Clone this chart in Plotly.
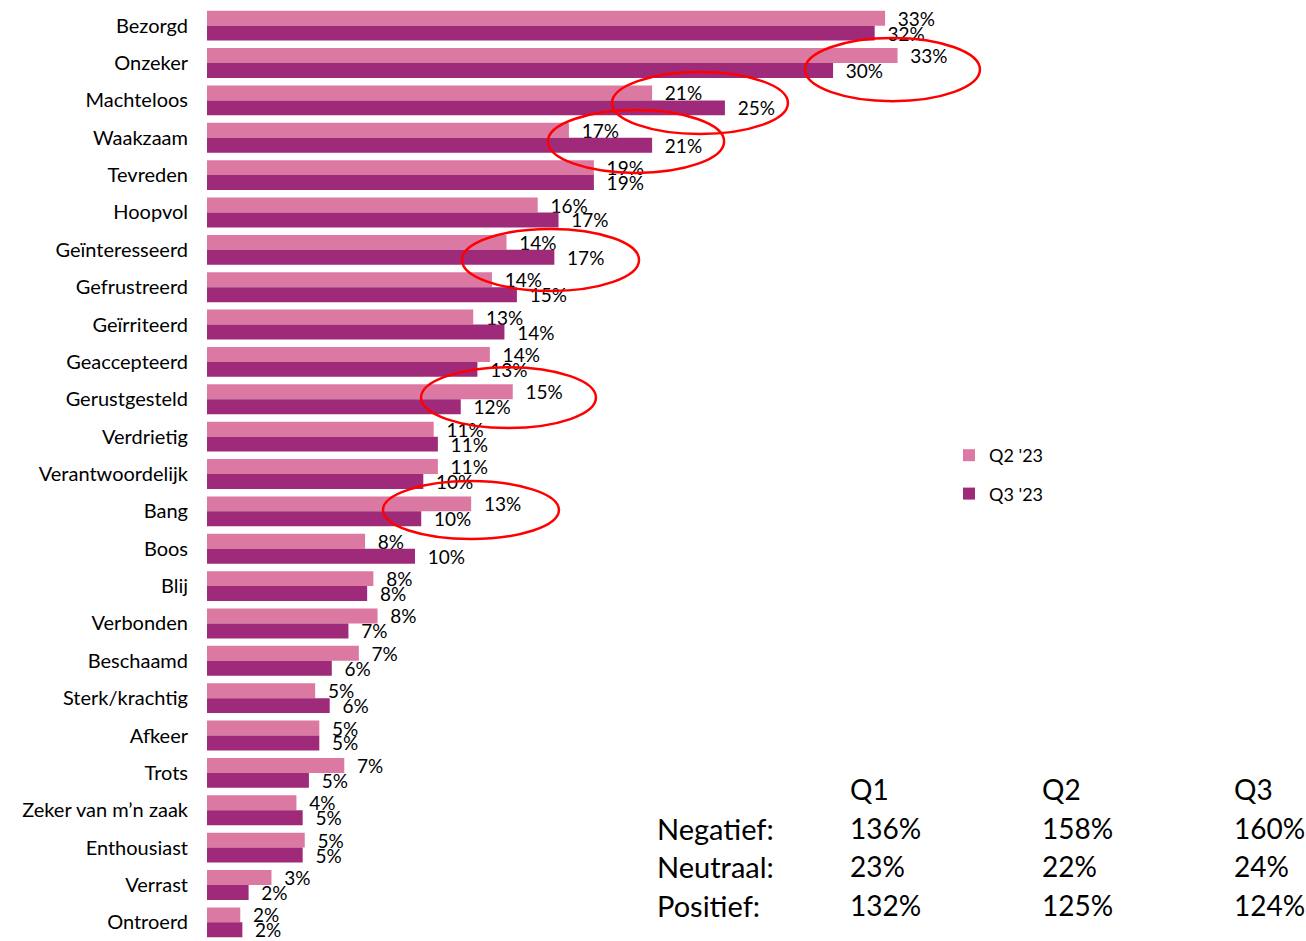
import plotly.graph_objects as go

CATEGORIES = ["Bezorgd", "Onzeker", "Machteloos", "Waakzaam", "Tevreden", "Hoopvol",
              "Geïnteresseerd", "Gefrustreerd", "Geïrriteerd", "Geaccepteerd", "Gerustgesteld",
              "Verdrietig", "Verantwoordelijk", "Bang", "Boos", "Blij", "Verbonden",
              "Beschaamd", "Sterk/krachtig", "Afkeer", "Trots", "Zeker van m’n zaak",
              "Enthousiast", "Verrast", "Ontroerd"]

Q2_VALUES = [32.6, 33.2, 21.4, 17.4, 18.6, 15.9, 14.4, 13.7, 12.8, 13.6, 14.7, 10.9, 11.1,
             12.7, 7.6, 8.0, 8.2, 7.3, 5.2, 5.4, 6.6, 4.3, 4.7, 3.1, 1.6]
Q3_VALUES = [32.1, 30.1, 24.9, 21.4, 18.6, 16.9, 16.7, 14.9, 14.3, 13.0, 12.2, 11.1, 10.4,
             10.3, 10.0, 7.7, 6.8, 6.0, 5.9, 5.4, 4.9, 4.6, 4.6, 2.0, 1.7]
Q2_LABELS = [33, 33, 21, 17, 19, 16, 14, 14, 13, 14, 15, 11, 11, 13, 8, 8, 8, 7, 5, 5, 7, 4, 5, 3, 2]
Q3_LABELS = [32, 30, 25, 21, 19, 17, 17, 15, 14, 13, 12, 11, 10, 10, 10, 8, 7, 6, 6, 5, 5, 5, 5, 2, 2]

SERIES = ["Q2 '23", "Q3 '23"]
COLORS = ["#DC79A2", "#A02A7A"]

TABLE_COLS = ["Q1", "Q2", "Q3"]
TABLE_ROWS = ["Negatief:", "Neutraal:", "Positief:"]
TABLE_VALUES = [["136%", "158%", "160%"],
                ["23%", "22%", "24%"],
                ["132%", "125%", "124%"]]

# highlighted categories: (category index, x start, x end, y top offset, y bottom offset)
HIGHLIGHTS = [(1, 28.75, 37.16, -0.67, 1.02),
              (2, 19.47, 27.93, -0.76, 0.90),
              (3, 16.39, 24.86, -0.74, 0.94),
              (6, 12.26, 20.77, -0.56, 1.10),
              (10, 10.29, 18.70, -0.86, 0.77),
              (13, 8.46, 16.92, -0.81, 0.74)]

FONT = "Lato, 'Open Sans', sans-serif"
W, H = 1306, 941
ML, MR, MT, MB = 207, 306, 7, 0
PX_PER_PCT = 20.8
XMAX = (W - ML - MR) / PX_PER_PCT

fig = go.Figure()
for name, vals, labs, col, grp in [(SERIES[0], Q2_VALUES, Q2_LABELS, COLORS[0], "a"),
                                   (SERIES[1], Q3_VALUES, Q3_LABELS, COLORS[1], "b")]:
    fig.add_trace(go.Bar(
        y=CATEGORIES, x=vals, orientation="h", name=name,
        marker=dict(color=col, line=dict(width=0)),
        text=["  %d%%" % v for v in labs], textposition="outside",
        textfont=dict(family=FONT, size=19, color="#000000"),
        constraintext="none", cliponaxis=False, legendgroup=grp,
        hoverinfo="skip"))

for idx, x0, x1, dy0, dy1 in HIGHLIGHTS:
    fig.add_shape(type="circle", xref="x", yref="y", x0=x0, x1=x1,
                  y0=idx + dy0, y1=idx + dy1,
                  line=dict(color="#FF0000", width=2.5), layer="above")

# summary table
def px_x(p):
    return (p - ML) / (W - ML - MR)

def px_y(p):
    return 1 - (p - MT) / (H - MT - MB)

col_x = [848, 1040, 1232]
for j, c in enumerate(TABLE_COLS):
    fig.add_annotation(text=c, x=px_x(col_x[j]), y=px_y(789), xref="paper", yref="paper",
                       xanchor="left", yanchor="middle", showarrow=False,
                       font=dict(family=FONT, size=28, color="#000000"))
row_y = [828, 866, 905]
for i, r in enumerate(TABLE_ROWS):
    fig.add_annotation(text=r, x=px_x(655), y=px_y(row_y[i]), xref="paper", yref="paper",
                       xanchor="left", yanchor="middle", showarrow=False,
                       font=dict(family=FONT, size=29, color="#000000"))
    for j, v in enumerate(TABLE_VALUES[i]):
        fig.add_annotation(text=v, x=px_x(col_x[j]), y=px_y(row_y[i]), xref="paper", yref="paper",
                           xanchor="left", yanchor="middle", showarrow=False,
                           font=dict(family=FONT, size=28, color="#000000"))

fig.update_layout(
    width=W, height=H,
    margin=dict(l=ML, r=MR, t=MT, b=MB),
    paper_bgcolor="white", plot_bgcolor="white",
    barmode="group", bargap=0.2, bargroupgap=0,
    showlegend=True,
    legend=dict(x=px_x(949), y=px_y(437), xanchor="left", yanchor="top",
                font=dict(family=FONT, size=18, color="#000000"),
                tracegroupgap=12, bgcolor="rgba(0,0,0,0)"),
    xaxis=dict(range=[0, XMAX], visible=False, showgrid=False, zeroline=False),
    yaxis=dict(autorange="reversed", type="category", showgrid=False, zeroline=False,
               showline=False, ticks="", ticklabelstandoff=18,
               tickfont=dict(family=FONT, size=20, color="#000000")),
)

fig.write_html("out.html", config={"displayModeBar": False},
               post_script="document.body.style.margin='0';document.body.style.overflow='hidden';")
